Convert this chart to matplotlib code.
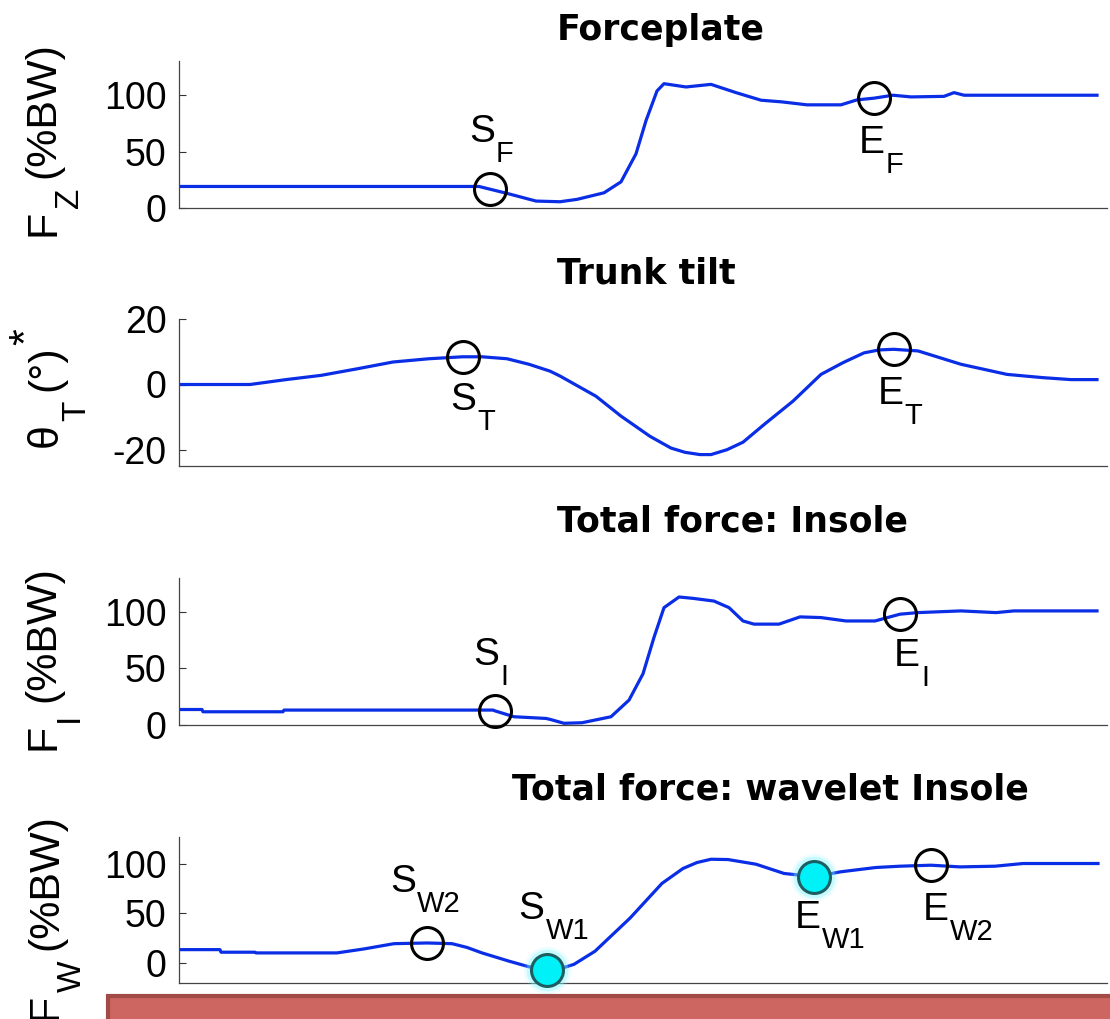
import numpy as np
import matplotlib
matplotlib.use('Agg')
import matplotlib.pyplot as plt
from matplotlib.patches import Rectangle

W, H = 1110, 1019
plt.rcParams['font.family'] = 'Liberation Sans'
plt.rcParams['axes.unicode_minus'] = False

# time axis in s, values read per panel
t_fp = [0.0, 1.50, 1.555, 1.64, 1.785, 1.905, 1.99, 2.125, 2.21, 2.285, 2.335, 2.39, 2.425,
        2.535, 2.66, 2.785, 2.91, 3.015, 3.14, 3.31, 3.39, 3.475, 3.57, 3.66, 3.825, 3.875,
        3.925, 4.59]
fz = [19.3, 19.3, 16.9, 13.2, 6.4, 5.8, 7.9, 13.7, 23.4, 48.2, 77.5, 103.8, 110.2,
      107.3, 109.6, 102.3, 95.6, 94.1, 91.5, 91.5, 95.9, 97.4, 100.0, 98.5, 99.0, 102.3,
      100.0, 100.0]

t_tt = [0.0, 0.355, 0.535, 0.71, 0.89, 1.07, 1.25, 1.4175, 1.515, 1.64, 1.75, 1.855, 1.905,
        2.085, 2.21, 2.355, 2.46, 2.53, 2.605, 2.66, 2.74, 2.82, 2.925, 3.07, 3.21, 3.32,
        3.425, 3.5, 3.573, 3.695, 3.8, 3.91, 4.14, 4.32, 4.46, 4.59]
theta = [0.0, 0.0, 1.5, 2.8, 4.8, 6.9, 7.9, 8.5, 8.5, 7.9, 6.2, 4.1, 2.6,
         -3.6, -9.7, -15.9, -19.5, -20.8, -21.5, -21.5, -20.0, -17.7, -12.3, -5.1, 3.1, 6.7,
         9.7, 10.6, 10.8, 10.3, 8.3, 6.2, 3.1, 2.1, 1.5, 1.5]

t_in = [0.0, 0.115, 0.12, 0.52, 0.525, 1.57, 1.578, 1.675, 1.835, 1.855, 1.925, 2.015, 2.16,
        2.25, 2.32, 2.375, 2.425, 2.5, 2.57, 2.675, 2.75, 2.82, 2.875, 3.0, 3.105, 3.21,
        3.335, 3.48, 3.605, 3.695, 3.91, 4.085, 4.175, 4.59]
fi = [13.7, 13.7, 11.7, 11.7, 13.2, 13.2, 12.6, 7.3, 5.8, 5.0, 1.5, 2.0, 7.3,
      22.0, 45.3, 77.5, 103.8, 113.2, 112.0, 109.6, 103.8, 92.0, 89.2, 89.2, 95.6, 95.0,
      92.0, 92.0, 98.0, 99.4, 100.9, 99.4, 100.9, 100.9]

t_wv = [0.0, 0.205, 0.21, 0.38, 0.385, 0.79, 0.925, 1.075, 1.24, 1.365, 1.44, 1.515, 1.65,
        1.75, 1.8375, 1.905, 1.975, 2.08, 2.255, 2.415, 2.52, 2.59, 2.66, 2.745, 2.885,
        3.025, 3.175, 3.31, 3.485, 3.605, 3.76, 3.905, 4.08, 4.22, 4.595]
fw = [13.3, 13.3, 10.7, 10.7, 10.0, 10.0, 14.0, 19.3, 20.0, 19.3, 15.5, 10.0, 1.7,
      -4.0, -7.3, -6.0, -1.5, 11.7, 45.0, 80.0, 95.0, 101.0, 104.3, 104.0, 99.3,
      90.0, 86.7, 91.7, 96.0, 97.3, 98.3, 96.6, 97.3, 100.0, 100.0]

# event markers: time, value, letter, subscript, filled, label offset (px)
ev_fp = [(1.555, 16.9, 'S', 'F', False, (5, 47)), (3.475, 97.4, 'E', 'F', False, (11, -55))]
ev_tt = [(1.4175, 8.5, 'S', 'T', False, (14, -53)), (3.573, 10.8, 'E', 'T', False, (10, -55))]
ev_in = [(1.578, 12.6, 'S', 'I', False, (5, 46)), (3.605, 98.0, 'E', 'I', False, (20, -52))]
ev_wv = [(1.24, 20.0, 'S', 'W2', False, (-11, 51)), (1.8375, -7.3, 'S', 'W1', True, (-2, 51)),
         (3.175, 86.7, 'E', 'W1', True, (7, -51)), (3.76, 98.3, 'E', 'W2', False, (18, -55))]

titles = ['Forceplate', 'Trunk tilt', 'Total force: Insole', 'Total force: wavelet Insole']
title_pos = [(557, 40), (557, 283), (557, 532), (512, 800)]
yticks = [[0, 50, 100], [-20, 0, 20], [0, 50, 100], [0, 50, 100]]
ylims = [(0, 130), (-25, 20), (0, 130), (-20, 127)]
boxes = [(61.3, 208.3), (319.3, 466), (578, 725), (836.7, 982.7)]

fig = plt.figure(figsize=(W / 100, H / 100), dpi=100)
rend = fig.canvas.get_renderer()


def mark_label(ax, x, y, base, sub, off):
    dx, dy = off
    ax.annotate(base, (x, y), xytext=(dx, dy), textcoords='offset pixels',
                ha='right', va='baseline', fontsize=28, annotation_clip=False)
    ax.annotate(sub, (x, y), xytext=(dx + 1, dy - 20), textcoords='offset pixels',
                ha='left', va='baseline', fontsize=21, annotation_clip=False)


def rot_label(x, y, pieces):
    # rotated y label built bottom to top; shift moves a piece's baseline right (subscript)
    for s, size, shift, gap in pieces:
        t = fig.text((x + shift) / W, 1 - y / H, s, rotation=90, rotation_mode='anchor',
                     ha='left', va='baseline', fontsize=size)
        bb = t.get_window_extent(rend)
        y = H - bb.y1 - gap


axes = []
for k, (top, bot) in enumerate(boxes):
    ax = fig.add_axes([179 / W, 1 - bot / H, 928 / W, (bot - top) / H])
    ax.set_xlim(0, 4.64)
    ax.set_ylim(*ylims[k])
    ax.set_yticks(yticks[k])
    ax.set_xticks([])
    ax.tick_params(axis='y', direction='in', length=5, width=0.8, labelsize=27, pad=9,
                   color='#333333')
    for side in ['top', 'right']:
        ax.spines[side].set_visible(False)
    for side in ['left', 'bottom']:
        ax.spines[side].set_color('#444444')
        ax.spines[side].set_linewidth(0.9)
    ax.patch.set_alpha(0)
    fig.text(title_pos[k][0] / W, 1 - title_pos[k][1] / H, titles[k], ha='left', va='baseline',
             fontsize=25, fontweight='bold', family='DejaVu Sans')
    axes.append(ax)

series = [(t_fp, fz, ev_fp), (t_tt, theta, ev_tt), (t_in, fi, ev_in), (t_wv, fw, ev_wv)]
for ax, (t, v, evs) in zip(axes, series):
    ax.plot(t, v, color='#0a2de6', lw=2.3, zorder=2)
    for x, y, base, sub, filled, off in evs:
        if filled:
            for ms, a in [(34, 0.15), (30, 0.35)]:
                ax.plot(x, y, 'o', ms=ms, mfc='#7ff6ff', mec='none', alpha=a, clip_on=False, zorder=3)
            ax.plot(x, y, 'o', ms=23, mfc='#00f2f8', mec='#1d5e62', mew=2.2, clip_on=False, zorder=4)
        else:
            ax.plot(x, y, 'o', ms=23, mfc='none', mec='k', mew=2.2, clip_on=False, zorder=4)
        mark_label(ax, x, y, base, sub, off)

rot_label(54, 236, [('F', 31, 0, 2), ('Z', 24, 24, 10), ('(%BW)', 31, 0, 0)])
rot_label(57, 447, [('\u03b8', 31, 0, 2), ('T', 24, 28, 10), ('(\u00b0)', 31, 0, 0), ('*', 31, -19, 0)])
rot_label(54, 750, [('F', 31, 0, 2), ('I', 24, 24, 10), ('(%BW)', 31, 0, 0)])
rot_label(57, 1020, [('F', 31, 0, 2), ('W', 24, 24, 10), ('(%BW)', 31, 0, 0)])

fig.add_artist(Rectangle((108 / W, -0.05), 1.2, (1019 - 996) / H + 0.05, transform=fig.transFigure,
                         fc='#cd6560', ec='#a24a46', lw=3, zorder=5))

fig.savefig('out.png', dpi=100)
